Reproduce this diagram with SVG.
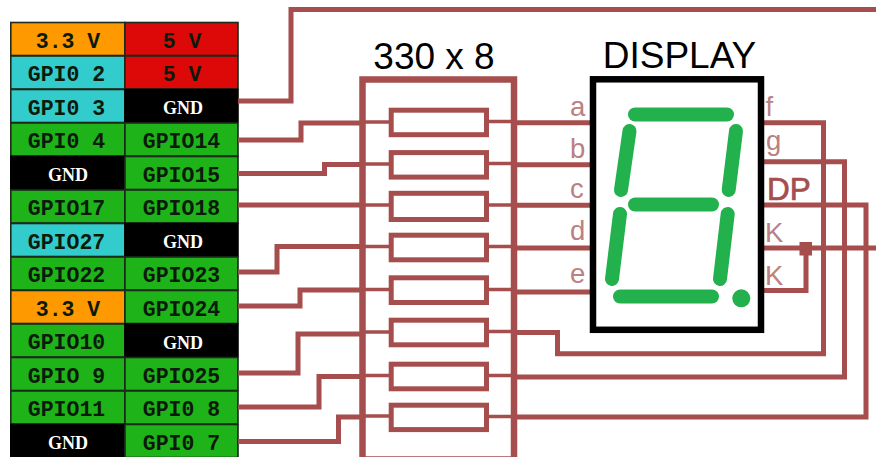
<svg xmlns="http://www.w3.org/2000/svg" width="876" height="457" viewBox="0 0 876 457">
<style>
.cell{stroke:#1c2b1c;stroke-width:1.6}
.o{fill:#ff9900}.c{fill:#33cccc}.g{fill:#1fb31a}.r{fill:#dd0808}.k{fill:#000;stroke:#000}
.t{font-family:"Liberation Mono",monospace;font-weight:700;font-size:21.5px;text-anchor:middle;fill:#0b1a0b}
.n{font-family:"Liberation Serif",serif;font-weight:700;font-size:18px;text-anchor:middle;fill:#fff}
.w{fill:none;stroke:#a64d4d;stroke-width:5}
.s{fill:none;stroke:#a64d4d;stroke-width:3.5}
.res{fill:#fff;stroke:#a64d4d;stroke-width:5}
.l{font-family:"Liberation Sans",sans-serif;font-size:27.5px;fill:#bc8080}
.h{font-family:"Liberation Sans",sans-serif;font-size:37px;fill:#000;text-anchor:middle}
.seg{stroke:#22b14c;stroke-width:14;stroke-linecap:round;fill:none}
</style>
<rect width="876" height="457" fill="#fff"/>
<g id="header">
<rect x="10" y="22" width="228.500" height="435" fill="#1c2b1c"/>
<rect class="cell o" x="10.800" y="22.500" width="114" height="33"/><rect class="cell r" x="125" y="22.500" width="112.800" height="33"/>
<text class="t" x="68" y="47.500">3.3 V</text><text class="t" x="182" y="47.500">5 V</text>
<rect class="cell c" x="10.800" y="56" width="114" height="33"/><rect class="cell r" x="125" y="56" width="112.800" height="33"/>
<text class="t" x="66.500" y="81">GPI0 2</text><text class="t" x="182" y="81">5 V</text>
<rect class="cell c" x="10.800" y="89.500" width="114" height="33"/><rect class="cell k" x="125" y="89.500" width="112.800" height="33"/>
<text class="t" x="66.500" y="114.500">GPI0 3</text><text class="n" x="183" y="113.500">GND</text>
<rect class="cell g" x="10.800" y="123" width="114" height="33"/><rect class="cell g" x="125" y="123" width="112.800" height="33"/>
<text class="t" x="66.500" y="148">GPI0 4</text><text class="t" x="181.500" y="148">GPIO14</text>
<rect class="cell k" x="10.800" y="156.500" width="114" height="33"/><rect class="cell g" x="125" y="156.500" width="112.800" height="33"/>
<text class="n" x="68" y="180.500">GND</text><text class="t" x="181.500" y="181.500">GPIO15</text>
<rect class="cell g" x="10.800" y="190" width="114" height="33"/><rect class="cell g" x="125" y="190" width="112.800" height="33"/>
<text class="t" x="66.500" y="215">GPIO17</text><text class="t" x="181.500" y="215">GPIO18</text>
<rect class="cell c" x="10.800" y="223.500" width="114" height="33"/><rect class="cell k" x="125" y="223.500" width="112.800" height="33"/>
<text class="t" x="66.500" y="248.500">GPIO27</text><text class="n" x="183" y="248">GND</text>
<rect class="cell g" x="10.800" y="257" width="114" height="33"/><rect class="cell g" x="125" y="257" width="112.800" height="33"/>
<text class="t" x="66.500" y="282">GPIO22</text><text class="t" x="181.500" y="282">GPIO23</text>
<rect class="cell o" x="10.800" y="290.500" width="114" height="33"/><rect class="cell g" x="125" y="290.500" width="112.800" height="33"/>
<text class="t" x="68" y="315.500">3.3 V</text><text class="t" x="181.500" y="315.500">GPIO24</text>
<rect class="cell g" x="10.800" y="324" width="114" height="33"/><rect class="cell k" x="125" y="324" width="112.800" height="33"/>
<text class="t" x="66.500" y="349">GPIO10</text><text class="n" x="183" y="348.500">GND</text>
<rect class="cell g" x="10.800" y="357.500" width="114" height="33"/><rect class="cell g" x="125" y="357.500" width="112.800" height="33"/>
<text class="t" x="66.500" y="382.500">GPIO 9</text><text class="t" x="181.500" y="382.500">GPIO25</text>
<rect class="cell g" x="10.800" y="391" width="114" height="33"/><rect class="cell g" x="125" y="391" width="112.800" height="33"/>
<text class="t" x="66.500" y="416">GPIO11</text><text class="t" x="181.500" y="416">GPI0 8</text>
<rect class="cell k" x="10.800" y="424.500" width="114" height="33"/><rect class="cell g" x="125" y="424.500" width="112.800" height="33"/>
<text class="n" x="68" y="449">GND</text><text class="t" x="181.500" y="450">GPI0 7</text>
</g>
<g id="connectors">
<path class="w" d="M238 101H291V9.500H876"/>
<path class="w" d="M238 140H301V123H362"/>
<path class="w" d="M238 173.500H324.500V164.500H362"/>
<path class="w" d="M238 205H362"/>
<path class="w" d="M238 272H277V246.500H362"/>
<path class="w" d="M238 306H300V290H362"/>
<path class="w" d="M238 373H298V334H362"/>
<path class="w" d="M238 407H319V376.500H362"/>
<path class="w" d="M238 441.500H338.500V417H362"/>
<path class="s" d="M362 122H391M362 164H391M362 205H391M362 246.500H391M362 289.500H391M362 332H391M362 375.500H391M362 416H391"/>
<path class="s" d="M486 121.500H514M486 163.500H514M486 205H514M486 246.500H514M486 289.500H514M486 331.500H514M486 375.500H514M486 416.500H514"/>
<path class="w" d="M514 122.700H592"/>
<path class="w" d="M514 164.700H592"/>
<path class="w" d="M514 205.300H592"/>
<path class="w" d="M514 248H592"/>
<path class="w" d="M514 292H592"/>
<path class="w" d="M514 332.500H557.500V353.700H823.500V122.700H762"/>
<path class="w" d="M514 377H844.500V161.700H762"/>
<path class="w" d="M514 417H866V205H762"/>
<path class="w" d="M762 248H876"/>
<path class="w" d="M762 290.500H806V248"/>
<rect x="799.500" y="242" width="12.500" height="13.500" fill="#a64d4d"/>
</g>
<g id="resistor-pack">
<rect x="362.500" y="79.500" width="151.500" height="380" fill="none" stroke="#a64d4d" stroke-width="6.500"/>
<rect class="res" x="391.200" y="110.200" width="95.300" height="24.500"/>
<rect class="res" x="391.200" y="152.600" width="95.300" height="24.500"/>
<rect class="res" x="391.200" y="193.300" width="95.300" height="26.200"/>
<rect class="res" x="391.200" y="235.200" width="95.300" height="24.600"/>
<rect class="res" x="391.200" y="277.800" width="95.300" height="24.700"/>
<rect class="res" x="391.200" y="320.200" width="95.300" height="24.600"/>
<rect class="res" x="391.200" y="364.200" width="95.300" height="24.600"/>
<rect class="res" x="391.200" y="405.200" width="95.300" height="24.400"/>
<text class="h" x="434" y="69">330 x 8</text>
</g>
<g id="display">
<rect x="593" y="79.300" width="168" height="250.500" fill="#fff" stroke="#000" stroke-width="6.500"/>
<path class="seg" d="M635 114.500H727"/>
<path class="seg" d="M629.500 131L621 190"/>
<path class="seg" d="M736 131L728.700 190"/>
<path class="seg" d="M635 204.500H712"/>
<path class="seg" d="M620 214L612 279"/>
<path class="seg" d="M727.700 214L720 279"/>
<path class="seg" d="M620 296.500H712"/>
<circle cx="741.300" cy="298.300" r="9" fill="#22b14c"/>
<text class="h" x="679.500" y="68">DISPLAY</text>
<text class="l" x="570" y="116">a</text>
<text class="l" x="570" y="158">b</text>
<text class="l" x="570" y="197.500">c</text>
<text class="l" x="570" y="240">d</text>
<text class="l" x="570" y="283">e</text>
<text class="l" x="765.500" y="116">f</text>
<text class="l" x="766" y="150">g</text>
<text x="767" y="200" font-family="Liberation Sans,sans-serif" font-size="31.500" fill="#a64d4d" stroke="#a64d4d" stroke-width="0.700">DP</text>
<text class="l" x="765" y="241.500">K</text>
<text class="l" x="765" y="285">K</text>
</g>
</svg>
